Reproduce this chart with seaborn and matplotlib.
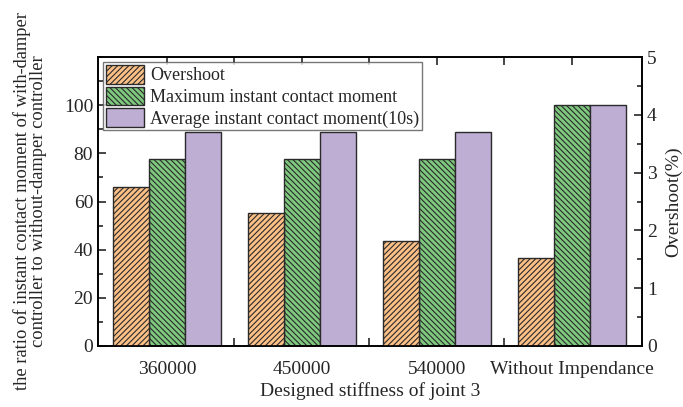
import matplotlib
matplotlib.use("Agg")
import matplotlib.pyplot as plt
from matplotlib.patches import Patch
from matplotlib.ticker import MultipleLocator
import seaborn as sns
import pandas as pd

# Data
categories = ["360000", "450000", "540000", "Without Impendance"]
overshoot = [2.75, 2.30, 1.82, 1.52]              # %
max_moment = [77.7, 77.7, 77.7, 100.0]            # ratio
avg_moment = [88.8, 88.8, 89.0, 100.0]            # ratio

series_names = ["Overshoot", "Maximum instant contact moment",
                "Average instant contact moment(10s)"]
colors = {"Overshoot": "#fdc086",
          "Maximum instant contact moment": "#7fc97f",
          "Average instant contact moment(10s)": "#beaed4"}
hatches = {"Overshoot": "//////",
           "Maximum instant contact moment": "\\\\\\\\\\\\",
           "Average instant contact moment(10s)": ""}

zeros = [0.0] * len(categories)


def long_table(ov, mx, av):
    return pd.DataFrame({
        "stiffness": categories * 3,
        "value": list(ov) + list(mx) + list(av),
        "series": [n for n in series_names for _ in categories],
    })


# Left axis holds the moment ratios, right axis the overshoot; each table
# keeps all three hue levels so the dodged slots line up on both axes.
moments = long_table(zeros, max_moment, avg_moment)
over = long_table(overshoot, zeros, zeros)

sns.set_style("ticks")
plt.rcParams["font.family"] = ["Liberation Serif", "DejaVu Serif"]
plt.rcParams["hatch.color"] = "#3a3a3a"
plt.rcParams["hatch.linewidth"] = 0.8

fig = plt.figure(figsize=(6.83, 4.07), dpi=100)
ax = fig.add_axes([98 / 683, 1 - 346 / 407, 544 / 683, 289 / 407])
ax2 = ax.twinx()

for a, df in ((ax, moments), (ax2, over)):
    sns.barplot(data=df, x="stiffness", y="value", hue="series",
                hue_order=series_names, order=categories, palette=colors,
                saturation=1, width=0.8, ax=a, edgecolor="#2a2a2a",
                linewidth=1.0, legend=False, errorbar=None)
    for name, cont in zip(series_names, a.containers):
        for p in cont.patches:
            p.set_hatch(hatches[name])
            if p.get_height() == 0:
                p.set_visible(False)

ax.set_xlim(-0.51, 3.52)
ax.set_ylim(0, 120)
ax2.set_ylim(0, 5)
ax.set_yticks([0, 20, 40, 60, 80, 100])
ax.yaxis.set_minor_locator(MultipleLocator(10))
ax2.set_yticks([0, 1, 2, 3, 4, 5])
ax2.yaxis.set_minor_locator(MultipleLocator(0.5))
ax.set_xticks(range(len(categories)))
ax.set_xticklabels(categories)
ax.set_xticks([0.5, 1.5, 2.5], minor=True)

fs = 14
ax.tick_params(axis="both", which="both", direction="in", labelsize=fs,
               top=True, width=1.2)
ax.tick_params(axis="both", which="major", length=6)
ax.tick_params(axis="both", which="minor", length=3.5)
ax.tick_params(axis="x", which="minor", length=6)
ax.tick_params(axis="x", which="major", pad=11)
ax2.tick_params(axis="y", which="both", direction="in", labelsize=fs, width=1.2)
ax2.tick_params(axis="y", which="major", length=6)
ax2.tick_params(axis="y", which="minor", length=3.5)

for a in (ax, ax2):
    for s in a.spines.values():
        s.set_visible(True)
        s.set_linewidth(1.2)
        s.set_color("black")

ax.set_xlabel("Designed stiffness of joint 3", fontsize=fs, labelpad=3)
ax.set_ylabel("the ratio of instant contact moment of with-damper\n"
              "controller to without-damper controller", fontsize=13.3,
              linespacing=0.95, labelpad=12)
ax2.set_ylabel("Overshoot(%)", fontsize=fs, labelpad=6)

handles = [Patch(facecolor=colors[n], edgecolor="#2a2a2a", hatch=hatches[n],
                 label=n) for n in series_names]
leg = ax.legend(handles=handles, loc="upper left", fontsize=13,
                frameon=True, fancybox=False, edgecolor="#555555",
                handlelength=2.1, handleheight=1.2, handletextpad=0.35,
                labelspacing=0.12, borderpad=0.15, borderaxespad=0.3)
leg.get_frame().set_linewidth(1.0)

fig.savefig("out.png", dpi=100)
